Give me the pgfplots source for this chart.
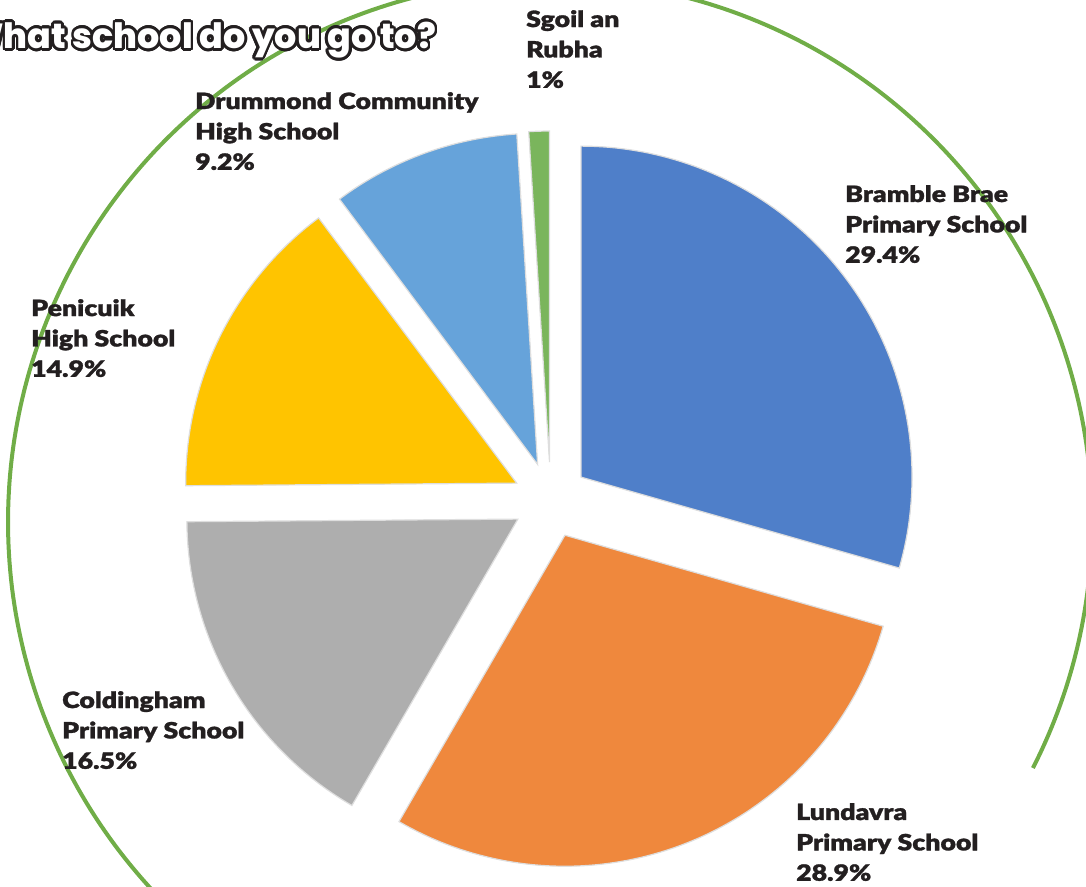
\documentclass[border=0pt]{standalone}
\usepackage{fontspec}
\usepackage{pgfplots}
\pgfplotsset{compat=1.18}
\usepackage[copies]{contour}
\contourlength{2.8bp}
\contournumber{24}
\newfontfamily\lblfont{Lato-Black}[FakeStretch=1.19, FakeBold=1.3]
\newfontfamily\ttlfont{Poppins ExtraBold}
\definecolor{cBlue}{HTML}{4F7FC9}
\definecolor{cOrange}{HTML}{EF883D}
\definecolor{cGrey}{HTML}{AEAEAE}
\definecolor{cYellow}{HTML}{FFC400}
\definecolor{cLight}{HTML}{66A3DA}
\definecolor{cGreen}{HTML}{7AB55C}
\definecolor{cLine}{HTML}{70AD47}
\definecolor{cEdge}{HTML}{DEDEDE}
\definecolor{cText}{HTML}{231F20}
% shares (percent)
\def\vA{29.4}% Bramble Brae Primary School
\def\vB{28.9}% Lundavra Primary School
\def\vC{16.5}% Coldingham Primary School
\def\vD{14.9}% Penicuik High School
\def\vE{9.2}%  Drummond Community High School
\def\vF{1}%    Sgoil an Rubha
\pgfmathsetmacro{\total}{\vA+\vB+\vC+\vD+\vE+\vF}
\pgfmathsetmacro{\aA}{90}
\pgfmathsetmacro{\aB}{\aA-360*\vA/\total}
\pgfmathsetmacro{\aC}{\aB-360*\vB/\total}
\pgfmathsetmacro{\aD}{\aC-360*\vC/\total}
\pgfmathsetmacro{\aE}{\aD-360*\vD/\total}
\pgfmathsetmacro{\aF}{\aE-360*\vE/\total}
\pgfmathsetmacro{\aG}{\aF-360*\vF/\total}
\def\cx{550.7}\def\cy{500}\def\R{331}\def\ex{38}
\newcommand\pieslice[3]{%
  \pgfmathsetmacro\midang{(#1+#2)/2}%
  \pgfmathsetmacro\px{\cx+\ex*cos(\midang)}%
  \pgfmathsetmacro\py{\cy-\ex*sin(\midang)}%
  \edef\doit{\noexpand\addplot[fill=#3, draw=cEdge, line width=1.2bp, line join=miter,
     domain=#2:#1, samples=90, variable=\noexpand\t]
     ({\px+\R*cos(\noexpand\t)},{\py-\R*sin(\noexpand\t)}) -- (axis cs:\px,\py) -- cycle;}%
  \doit}
\newcommand\lbl[3]{\node[anchor=north west, inner sep=0pt, align=left, text=cText,
   font=\lblfont\fontsize{22.5}{30.5}\selectfont] at (axis cs:#1,#2) {#3};}
\begin{document}
\begin{tikzpicture}
\begin{scope}
\clip (0,0) rectangle (1086bp,887bp);
\begin{axis}[at={(0,0)}, anchor=south west, hide axis, scale only axis,
  width=1086bp, height=887bp, xmin=0, xmax=1086, ymin=0, ymax=887,
  y dir=reverse, clip=true]
\addplot[draw=cLine, line width=4bp, domain=-27:250, samples=300, variable=\t]
  ({550+542*cos(\t)},{522-542*sin(\t)});
\pieslice{\aA}{\aB}{cBlue}
\pieslice{\aB}{\aC}{cOrange}
\pieslice{\aC}{\aD}{cGrey}
\pieslice{\aD}{\aE}{cYellow}
\pieslice{\aE}{\aF}{cLight}
\pieslice{\aF}{\aG}{cGreen}
\lbl{526}{10}{Sgoil an\\Rubha\\1\%}
\lbl{195}{92}{Drummond Community\\High School\\9.2\%}
\lbl{845}{185}{Bramble Brae\\Primary School\\29.4\%}
\lbl{31}{299}{Penicuik\\High School\\14.9\%}
\lbl{62}{691}{Coldingham\\Primary School\\16.5\%}
\lbl{796}{803}{Lundavra\\Primary School\\28.9\%}
\node[anchor=base east, inner sep=0pt] at (axis cs:436,48.5)
  {\ttlfont\fontsize{35}{35}\selectfont\contour{cText}{\textcolor{white}{What school do you go to?}}};
\end{axis}
\end{scope}
\pgfresetboundingbox
\useasboundingbox (0,0) rectangle (1086bp,887bp);
\end{tikzpicture}
\end{document}
